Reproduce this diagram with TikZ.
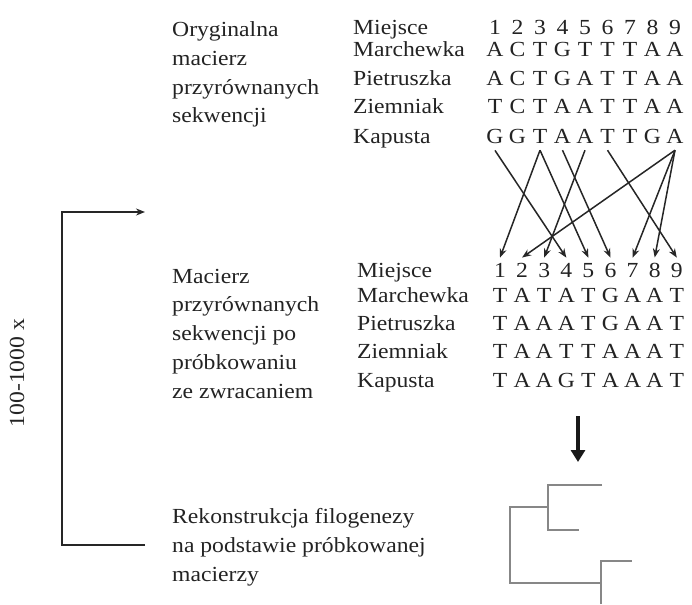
\documentclass[tikz,border=0pt]{standalone}
\usepackage{fontspec}
\setmainfont{Liberation Serif}[FakeStretch=1.1]
\usetikzlibrary{arrows.meta,positioning}
\definecolor{myText}{RGB}{35,35,35}
\definecolor{myTree}{RGB}{135,135,135}
\tikzset{
  txt/.style={anchor=base west, inner sep=0pt, align=left, text=myText,
    font=\fontsize{21.5}{28.7}\selectfont},
  letter/.style={anchor=base, inner sep=0pt, text=myText,
    font=\fontsize{21.5}{28.7}\selectfont},
  pick/.style={-{Stealth[length=9pt,width=7pt]}, line width=1.5pt, draw=black!85},
  branch/.style={myTree, line width=1.3pt},
  loop/.style={line width=1.8pt, draw=black!85},
}

\begin{document}
\begin{tikzpicture}[x=1pt,y=-1pt]
                \useasboundingbox (0,0) rectangle (692,604);
                % opisy po lewej (base = ostatnia linia)
                \node[txt] (orig) at (172,123) {Oryginalna\\macierz\\przyrównanych\\sekwencji};
                \node[txt] (boot) at (172,398) {Macierz\\przyrównanych\\sekwencji po\\próbkowaniu\\ze zwracaniem};
                \node[txt] (recon) at (172,581) {Rekonstrukcja filogenezy\\na podstawie próbkowanej\\macierzy};
                \node[letter, rotate=90] (reps) at (24,373) {100-1000 x};

                % macierz oryginalna
                \node[txt] (tlab0) at (353,35) {Miejsce};
                \node[txt] (tlab1) at (353,57) {Marchewka};
                \node[txt] (tlab2) at (353,86) {Pietruszka};
                \node[txt] (tlab3) at (353,114) {Ziemniak};
                \node[txt] (tlab4) at (353,143) {Kapusta};
                \foreach \c [count=\i] in {1,2,3,4,5,6,7,8,9} \node[letter] (tn\i) at ({495+22.5*(\i-1)},35) {\c};
                \foreach \c [count=\i] in {A,C,T,G,T,T,T,A,A} \node[letter] (tm\i) at ({495+22.5*(\i-1)},57) {\c};
                \foreach \c [count=\i] in {A,C,T,G,A,T,T,A,A} \node[letter] (tp\i) at ({495+22.5*(\i-1)},86) {\c};
                \foreach \c [count=\i] in {T,C,T,A,A,T,T,A,A} \node[letter] (tz\i) at ({495+22.5*(\i-1)},114) {\c};
                \foreach \c [count=\i] in {G,G,T,A,A,T,T,G,A} \node[letter] (tk\i) at ({495+22.5*(\i-1)},143) {\c};

                % macierz po probkowaniu
                \node[txt] (blab0) at (357,277) {Miejsce};
                \node[txt] (blab1) at (357,302) {Marchewka};
                \node[txt] (blab2) at (357,330) {Pietruszka};
                \node[txt] (blab3) at (357,358) {Ziemniak};
                \node[txt] (blab4) at (357,387) {Kapusta};
                \foreach \c [count=\i] in {1,2,3,4,5,6,7,8,9} \node[letter] (bn\i) at ({500+22.1*(\i-1)},277) {\c};
                \foreach \c [count=\i] in {T,A,T,A,T,G,A,A,T} \node[letter] (bm\i) at ({500+22.1*(\i-1)},302) {\c};
                \foreach \c [count=\i] in {T,A,A,A,T,G,A,A,T} \node[letter] (bp\i) at ({500+22.1*(\i-1)},330) {\c};
                \foreach \c [count=\i] in {T,A,A,T,T,A,A,A,T} \node[letter] (bz\i) at ({500+22.1*(\i-1)},358) {\c};
                \foreach \c [count=\i] in {T,A,A,G,T,A,A,A,T} \node[letter] (bk\i) at ({500+22.1*(\i-1)},387) {\c};

                % losowanie kolumn
                \foreach \a/\b in {1/4,3/1,3/5,4/6,5/3,6/9,9/2,9/7,9/8}
                    \draw[pick] ([yshift=-7pt]tk\a.south) -- ([yshift=5pt]bn\b.north);

                % strzalka do drzewa
                \coordinate (down1) at (578,416);
                \coordinate (down2) at (578,462);
                \draw[line width=3.4pt, draw=black!90, -{Triangle[length=12pt,width=14pt]}] (down1) -- (down2);

                % drzewo
                \draw[branch] (602,485) -| (548,530) -- (579,530);
                \draw[branch] (548,507) -- (510,507) |- (601,583);
                \draw[branch] (601,604) |- (632,561);

                % petla powtorzen
                \coordinate (loopTop) at (145,212);
                \coordinate (loopBot) at (145,545);
                \draw[loop, -{Stealth[length=9pt,width=7pt]}] (loopBot) -- (62,545) -- (62,212) -- (loopTop);
\end{tikzpicture}
\end{document}
